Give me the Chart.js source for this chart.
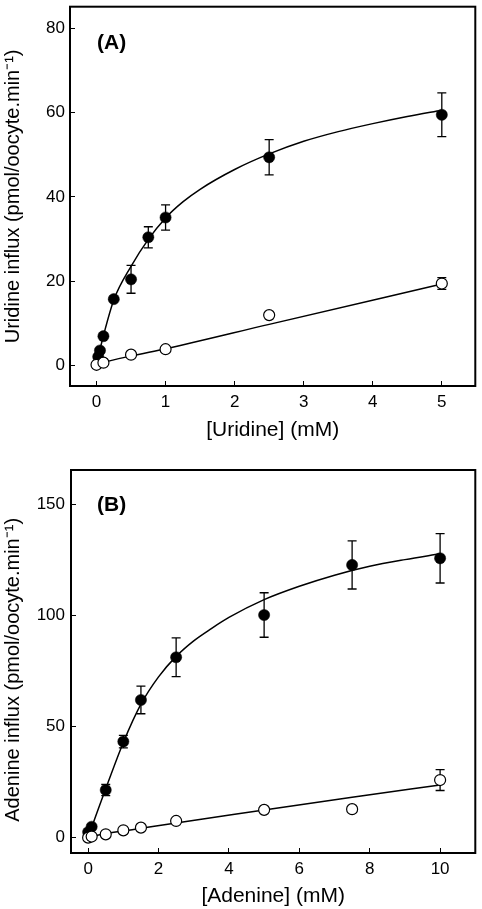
<!DOCTYPE html>
<html><head><meta charset="utf-8">
<script src="https://cdn.jsdelivr.net/npm/chart.js@4"></script>
<style>
html,body{margin:0;padding:0;background:#fff;}
#wrapA{position:absolute;left:0;top:0;width:482px;height:455px;}
#wrapB{position:absolute;left:0;top:455px;width:482px;height:454px;}
</style></head><body>
<div id="wrapA"><canvas id="cA"></canvas></div>
<div id="wrapB"><canvas id="cB"></canvas></div>
<script>
// ---------- Panel A: uridine ----------
const uridineFilledConc = [0.025, 0.05, 0.1, 0.25, 0.5, 0.75, 1, 2.5, 5];
const uridineFilled     = [2.0, 3.5, 6.9, 15.7, 20.4, 30.4, 35.1, 49.4, 59.5];
const uridineFilledErr  = [0, 0, 0, 0, 3.3, 2.5, 3.0, 4.2, 5.2];
const uridineOpenConc   = [0, 0.1, 0.5, 1, 2.5, 5];
const uridineOpen       = [0.1, 0.6, 2.5, 3.8, 11.9, 19.4];
const uridineOpenErr    = [0, 0, 0, 0, 0, 1.4];
const uridineFitConc    = [0, 0.05, 0.1, 0.25, 0.5, 0.75, 1, 1.25, 1.5, 2, 2.5, 3, 3.5, 4, 4.5, 5];
const uridineFitFilled  = [0, 3.7, 7, 15.5, 23.5, 29.9, 35, 38.8, 41.8, 46.5, 50.2, 53.2, 55.5, 57.4, 59.1, 60.6];
const uridineLinConc    = [0, 0.1, 0.5, 1, 2.5, 5];
const uridineLinOpen    = [0, 0.6, 2.2, 3.9, 9.7, 19.3];
const uridineXTicks = [0, 1, 2, 3, 4, 5];
const uridineYTicks = [0, 20, 40, 60, 80];

// ---------- Panel B: adenine ----------
const adenineFilledConc = [0, 0.1, 0.5, 1, 1.5, 2.5, 5, 7.5, 10];
const adenineFilled     = [2.5, 4.9, 21.4, 43.2, 61.9, 81.1, 100.1, 122.6, 125.6];
const adenineFilledErr  = [0, 0, 2.5, 2.8, 6.2, 8.7, 10.0, 10.8, 11.1];
const adenineOpenConc   = [0, 0.1, 0.5, 1, 1.5, 2.5, 5, 7.5, 10];
const adenineOpen       = [0, 0.5, 1.5, 3.3, 4.5, 7.5, 12.5, 12.8, 25.9];
const adenineOpenErr    = [0, 0, 0, 0, 0, 0, 0, 0, 4.7];
const adenineFitConc    = [0, 0.1, 0.5, 1, 1.5, 2, 2.5, 3, 3.5, 4, 5, 6, 7, 8, 9, 10];
const adenineFitFilled  = [0, 4.6, 22, 42.8, 60, 72.3, 81.5, 88.5, 94, 99, 107, 113, 118, 122, 125, 127.6];
const adenineLinConc    = [0, 0.1, 0.5, 1, 1.5, 2.5, 5, 7.5, 10];
const adenineLinOpen    = [0, 0.5, 1.8, 3.0, 4.2, 6.6, 12.4, 18.2, 23.7];
const adenineXTicks = [0, 2, 4, 6, 8, 10];
const adenineYTicks = [0, 50, 100, 150];

const FONT = "'Liberation Sans', Arial, Helvetica, sans-serif";

const pts = (xs, ys) => xs.map((x, i) => ({x: x, y: ys[i]}));

const errorBars = {
  id: 'errorBars',
  beforeDatasetsDraw(chart) {
    const ctx = chart.ctx, xs = chart.scales.x, ys = chart.scales.y;
    ctx.save();
    ctx.strokeStyle = '#000';
    ctx.lineWidth = 1.3;
    chart.data.datasets.forEach(ds => {
      if (!ds.errors) return;
      ds.data.forEach((p, i) => {
        const e = ds.errors[i];
        if (!e) return;
        const x = xs.getPixelForValue(p.x);
        const y1 = ys.getPixelForValue(p.y + e), y2 = ys.getPixelForValue(p.y - e);
        ctx.beginPath();
        ctx.moveTo(x, y1); ctx.lineTo(x, y2);
        ctx.moveTo(x - 4.5, y1); ctx.lineTo(x + 4.5, y1);
        ctx.moveTo(x - 4.5, y2); ctx.lineTo(x + 4.5, y2);
        ctx.stroke();
      });
    });
    ctx.restore();
  }
};

const frame = {
  id: 'frame',
  afterDraw(chart, args, opts) {
    const {ctx, chartArea: a} = chart;
    ctx.save();
    ctx.strokeStyle = '#000';
    ctx.lineWidth = 2;
    ctx.strokeRect(a.left, a.top, a.right - a.left, a.bottom - a.top);
    ctx.fillStyle = '#000';
    ctx.font = 'bold 21px ' + FONT;
    ctx.textAlign = 'left';
    ctx.textBaseline = 'middle';
    ctx.fillText(opts.label, a.left + opts.dx, a.top + opts.dy);
    ctx.restore();
  }
};

function makeChart(id, cfg) {
  const datasets = [
    {data: pts(cfg.openConc, cfg.open), errors: cfg.openErr, showLine: false,
     pointRadius: 5.5, pointBackgroundColor: '#fff', pointBorderColor: '#000', pointBorderWidth: 1.2, order: 0},
    {data: pts(cfg.filledConc, cfg.filled), errors: cfg.filledErr, showLine: false,
     pointRadius: 5.6, pointBackgroundColor: '#000', pointBorderColor: '#000', pointBorderWidth: 0.5, order: 1},
    {data: pts(cfg.fitConc, cfg.fit), showLine: true, pointRadius: 0, borderColor: '#000', borderWidth: 1.5,
     cubicInterpolationMode: 'monotone', order: 2},
    {data: pts(cfg.linConc, cfg.lin), showLine: true, pointRadius: 0, borderColor: '#000', borderWidth: 1.5,
     cubicInterpolationMode: 'monotone', order: 3}
  ];
  return new Chart(document.getElementById(id), {
    type: 'scatter',
    data: {datasets},
    options: {
      responsive: true, maintainAspectRatio: false, animation: false,
      layout: {padding: cfg.padding},
      plugins: {legend: {display: false}, tooltip: {enabled: false},
                frame: {label: cfg.label, dx: cfg.labelDx, dy: cfg.labelDy}},
      scales: {
        x: {
          type: 'linear', position: 'bottom', min: cfg.xmin, max: cfg.xmax,
          afterBuildTicks: s => { s.ticks = cfg.xTicks.map(v => ({value: v})); },
          afterFit: s => { s.height = cfg.xAxisH; s.paddingLeft = 0; s.paddingRight = 0; s.paddingTop = 0; s.paddingBottom = 0; },
          border: {display: false},
          grid: {drawOnChartArea: false, drawTicks: true, tickLength: -5, color: '#000', lineWidth: 1},
          ticks: {color: '#000', font: {family: FONT, size: 17}, padding: 11, maxRotation: 0},
          title: {display: true, text: cfg.xTitle, color: '#000', font: {family: FONT, size: 21},
                  padding: {top: 0, bottom: cfg.xTitlePad}}
        },
        y: {
          type: 'linear', position: 'left', min: cfg.ymin, max: cfg.ymax,
          afterBuildTicks: s => { s.ticks = cfg.yTicks.map(v => ({value: v})); },
          afterFit: s => { s.width = cfg.yAxisW; s.paddingTop = 0; s.paddingBottom = 0; s.paddingLeft = 0; s.paddingRight = 0; },
          border: {display: false},
          grid: {drawOnChartArea: false, drawTicks: true, tickLength: -5, color: '#000', lineWidth: 1},
          ticks: {color: '#000', font: {family: FONT, size: 17}, padding: cfg.yTickPad},
          title: {display: true, text: cfg.yTitle, color: '#000', font: {family: FONT, size: 20},
                  padding: {top: 1, bottom: 0}}
        }
      }
    },
    plugins: [errorBars, frame]
  });
}

makeChart('cA', {
  openConc: uridineOpenConc, open: uridineOpen, openErr: uridineOpenErr,
  filledConc: uridineFilledConc, filled: uridineFilled, filledErr: uridineFilledErr,
  fitConc: uridineFitConc, fit: uridineFitFilled, linConc: uridineLinConc, lin: uridineLinOpen,
  xTicks: uridineXTicks, yTicks: uridineYTicks,
  xmin: -0.384, xmax: 5.485, ymin: -4.94, ymax: 85.18,
  padding: {top: 3, right: 4, left: 0, bottom: 0}, xAxisH: 69, yAxisW: 70, yTickPad: 10, xTitlePad: 12,
  xTitle: '[Uridine] (mM)', yTitle: 'Uridine influx (pmol/oocyte.min\u207B\u00B9)',
  label: '(A)', labelDx: 27, labelDy: 36.5
});

makeChart('cB', {
  openConc: adenineOpenConc, open: adenineOpen, openErr: adenineOpenErr,
  filledConc: adenineFilledConc, filled: adenineFilled, filledErr: adenineFilledErr,
  fitConc: adenineFitConc, fit: adenineFitFilled, linConc: adenineLinConc, lin: adenineLinOpen,
  xTicks: adenineXTicks, yTicks: adenineYTicks,
  xmin: -0.487, xmax: 11.0, ymin: -6.9, ymax: 165.3,
  padding: {top: 15, right: 3, left: 0, bottom: 0}, xAxisH: 56, yAxisW: 71, yTickPad: 11, xTitlePad: 0,
  xTitle: '[Adenine] (mM)', yTitle: 'Adenine influx (pmol/oocyte.min\u207B\u00B9)\u00A0\u00A0\u00A0',
  label: '(B)', labelDx: 26, labelDy: 35
});
</script>
</body></html>
